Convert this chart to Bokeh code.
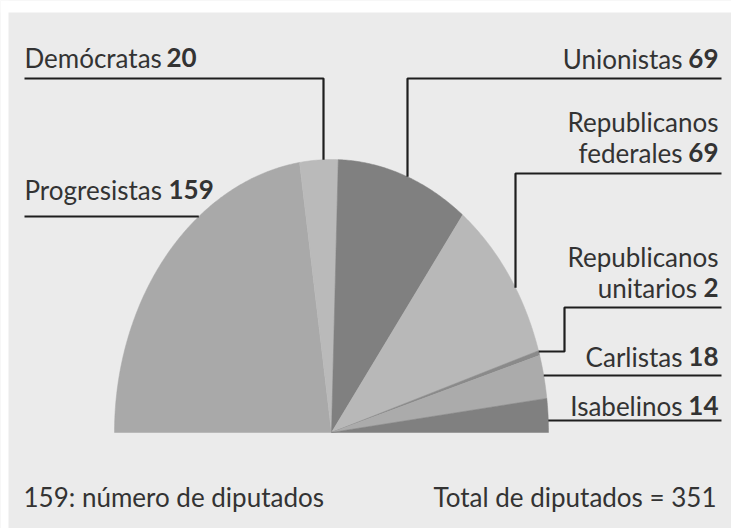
import math
from bokeh.plotting import figure
from bokeh.models import Range1d
from bokeh.core.properties import value
from bokeh.embed import file_html
from bokeh.resources import INLINE

# ---- data ----
parties = ["Progresistas", "Demócratas", "Unionistas", "Republicanos federales",
           "Republicanos unitarios", "Carlistas", "Isabelinos"]
seats = [159, 20, 69, 69, 2, 18, 14]
total = sum(seats)
footer_left = "159: número de diputados"
footer_right = "Total de diputados = 351"

# ---- style ----
colors = ["#a9a9a9", "#bababa", "#808080", "#b8b8b8", "#8a8a8a", "#ababab", "#808080"]
FONT = value("Lato")
FS = "26px"
TXT = "#333333"
LINE = "#1e1e1e"
TEXT_DY = 10  # renderer places alphabetic baseline lower; compensate

W, H = 731, 528
p = figure(width=W, height=H, output_backend="svg", toolbar_location=None,
           x_range=Range1d(0, W), y_range=Range1d(0, H), min_border=0)
p.axis.visible = False
p.grid.visible = False
p.outline_line_color = None
p.background_fill_color = "#ebebeb"
p.border_fill_color = "#ebebeb"

def X(px):
    return px

def Y(py):
    return H - py

def YT(py):
    return H - py + TEXT_DY

# white margins around the panel
p.quad(left=[0, 0], right=[W, 8], bottom=[Y(12), 0], top=[H, H],
       fill_color="white", line_color=None)

# ---- half pie (elliptical) ----
cx, cy = 331, 432
rx, ry = 217, 273

def edge_y(px):
    t = (px - cx) / rx
    return cy - ry * math.sqrt(max(0.0, 1 - t * t))

def edge_x(py, side=1):
    t = (cy - py) / ry
    return cx + side * rx * math.sqrt(max(0.0, 1 - t * t))

xs, ys = [], []
acc = 0
for s in seats:
    a0 = math.pi - math.pi * acc / total
    acc += s
    a1 = math.pi - math.pi * acc / total
    n = max(4, int(abs(a0 - a1) * 120))
    px = [X(cx)]
    py = [Y(cy)]
    for i in range(n + 1):
        a = a0 + (a1 - a0) * i / n
        px.append(X(cx + rx * math.cos(a)))
        py.append(Y(cy - ry * math.sin(a)))
    xs.append(px)
    ys.append(py)
p.patches(xs, ys, fill_color=colors, line_color=colors, line_width=0.5)

# ---- leader lines (page pixel layout) ----
leaders = [
    [(24, 78), (323, 78), (323, edge_y(323))],
    [(24, 216), (edge_x(216, -1), 216)],
    [(721, 78), (407, 78), (407, edge_y(407))],
    [(721, 173), (515, 173), (515, edge_y(515))],
    [(721, 307), (564, 307), (564, 351), (edge_x(351), 351)],
    [(721, 375), (edge_x(375), 375)],
    [(721, 420), (edge_x(420), 420)],
]
p.multi_line([[X(a) for a, b in L] for L in leaders],
             [[Y(b) for a, b in L] for L in leaders],
             line_color=LINE, line_width=2.2)

# ---- labels ----
# (party index, name lines, anchor x, baseline of last line, align, number x)
label_layout = [
    (1, ["Demócratas"], 24, 67, "left", 166),
    (0, ["Progresistas"], 24, 199, "left", 168),
    (2, ["Unionistas"], 718, 68, "right", 718),
    (3, ["Republicanos", "federales"], 718, 162, "right", 718),
    (4, ["Republicanos", "unitarios"], 718, 297, "right", 718),
    (5, ["Carlistas"], 718, 366, "right", 718),
    (6, ["Isabelinos"], 718, 415, "right", 718),
]
LH = 31
DIGIT = 14.5
GAP = 7

reg_x, reg_y, reg_t, reg_a = [], [], [], []
b_x, b_y, b_t, b_a = [], [], [], []
for idx, lines, ax, base, align, nx in label_layout:
    num = str(seats[idx])
    for k, ln in enumerate(lines):
        by = base - (len(lines) - 1 - k) * LH
        last = k == len(lines) - 1
        if align == "right":
            if last:
                reg_x.append(X(ax - len(num) * DIGIT - GAP))
                b_x.append(X(nx)); b_y.append(YT(by)); b_t.append(num); b_a.append("right")
            else:
                reg_x.append(X(ax))
            reg_a.append("right")
        else:
            reg_x.append(X(ax))
            reg_a.append("left")
            if last:
                b_x.append(X(nx)); b_y.append(YT(by)); b_t.append(num); b_a.append("left")
        reg_y.append(YT(by))
        reg_t.append(ln)

for xx, yy, tt, aa in zip(reg_x, reg_y, reg_t, reg_a):
    p.text(x=[xx], y=[yy], text=[tt], text_align=aa, text_baseline="alphabetic",
           text_font=FONT, text_font_size=FS, text_color=TXT)
for xx, yy, tt, aa in zip(b_x, b_y, b_t, b_a):
    p.text(x=[xx], y=[yy], text=[tt], text_align=aa, text_baseline="alphabetic",
           text_font=FONT, text_font_size=FS, text_font_style="bold", text_color=TXT)

p.text(x=[X(23)], y=[YT(506)], text=[footer_left], text_align="left", text_baseline="alphabetic",
       text_font=FONT, text_font_size=FS, text_color=TXT)
p.text(x=[X(716)], y=[YT(506)], text=[footer_right], text_align="right", text_baseline="alphabetic",
       text_font=FONT, text_font_size=FS, text_color=TXT)

open("out.html", "w").write(file_html(p, INLINE))
